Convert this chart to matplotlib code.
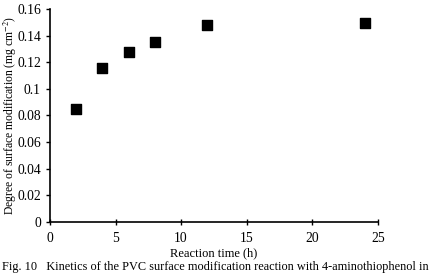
import matplotlib
matplotlib.use("Agg")
import matplotlib.pyplot as plt

# Reaction time (h) vs degree of surface modification (mg cm-2)
time_h = [2, 4, 6, 8, 12, 24]
degree = [0.085, 0.1155, 0.128, 0.1355, 0.148, 0.1495]
x_ticks = [0, 5, 10, 15, 20, 25]
y_ticks = [0, 0.02, 0.04, 0.06, 0.08, 0.1, 0.12, 0.14, 0.16]
y_tick_labels = ["0", "0.02", "0.04", "0.06", "0.08", "0.1", "0.12", "0.14", "0.16"]

plt.rcParams['font.family'] = ['Liberation Serif', 'DejaVu Serif']
plt.rcParams['mathtext.fontset'] = 'stix'

fig = plt.figure(figsize=(4.42, 2.73), dpi=100)
ax = fig.add_axes([0.113, 0.187, 0.742, 0.780])

ax.scatter(time_h, degree, marker='s', s=50, color='black', zorder=3)

ax.set_xlim(0, 25)
ax.set_ylim(0, 0.16)
ax.set_xticks(x_ticks)
ax.set_yticks(y_ticks)
ax.set_yticklabels(y_tick_labels)
ax.tick_params(axis='both', labelsize=9.8, width=1, length=3, colors='black')
ax.tick_params(axis='x', direction='inout', length=4, pad=5)

for side in ['top', 'right']:
    ax.spines[side].set_visible(False)
for side in ['left', 'bottom']:
    ax.spines[side].set_linewidth(1.2)

ax.set_xlabel('Reaction time (h)', fontsize=9, labelpad=2)

# y label placed by hand so it sits against the left edge like the original
fig.text(0.004, 0.577, 'Degree of surface modification (mg cm$^{-2}$)', fontsize=8.4,
         rotation=90, ha='left', va='center')

fig.text(0.004, 0.0, 'Fig. 10   Kinetics of the PVC surface modification reaction with 4-aminothiophenol in',
         fontsize=8.8, va='bottom', ha='left')

fig.savefig('out.png', dpi=100)
